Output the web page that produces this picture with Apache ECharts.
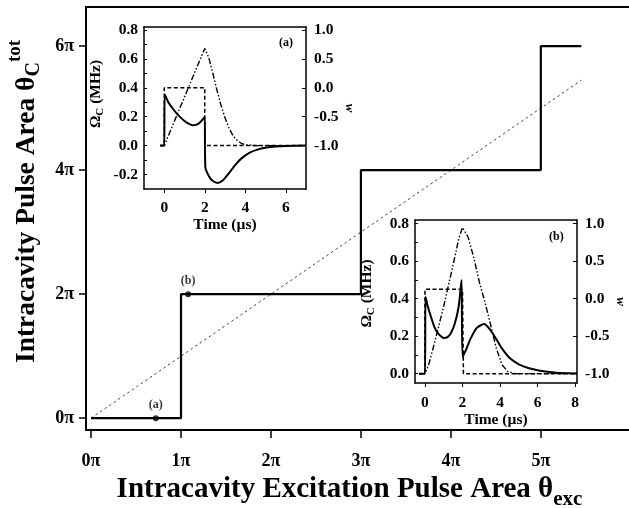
<!DOCTYPE html>
<html><head><meta charset="utf-8">
<script src="https://cdn.jsdelivr.net/npm/echarts@6/dist/echarts.min.js"></script>
<style>html,body{margin:0;padding:0;background:#fff}#c{width:629px;height:508px}</style>
</head><body><div id="c"></div>
<script>
// ---- main plot (units of pi) ----
const stepX = [0, 1, 1, 3, 3, 5, 5, 5.45];
const stepY = [0, 0, 2, 2, 4, 4, 6, 6];
const diagX = [0, 5.45];
const diagY = [0, 5.45];
const markX = [0.72, 1.08];
const markY = [0, 2];
const markLabels = ['(a)', '(b)'];
const mainXTicks = [0, 1, 2, 3, 4, 5];
const mainYTicks = [0, 2, 4, 6];

// ---- inset (a) ----
const aSolidT = [-0.2, 0, 0.02, 0.2, 0.4, 0.6, 0.8, 1.0, 1.2, 1.4, 1.6, 1.8, 1.95, 2.0, 2.03, 2.2, 2.4, 2.65, 2.9, 3.2, 3.5, 3.8, 4.2, 4.6, 5.0, 5.5, 6.0, 7.0];
const aSolidV = [0, 0, 0.355, 0.30, 0.26, 0.225, 0.195, 0.17, 0.152, 0.14, 0.145, 0.165, 0.19, 0.2, -0.15, -0.21, -0.245, -0.258, -0.24, -0.19, -0.135, -0.09, -0.05, -0.028, -0.015, -0.007, -0.003, 0];
const aDashT = [-0.2, 0, 0, 2, 2, 7];
const aDashV = [0, 0, 0.4, 0.4, 0, 0];
const aWT = [-0.2, 0, 0.5, 1.0, 1.5, 2.0, 2.2, 2.4, 2.6, 2.8, 3.0, 3.2, 3.4, 3.6, 3.8, 4.0, 4.5, 7.0];
const aWV = [-1, -1, -0.58, -0.16, 0.26, 0.68, 0.52, 0.25, -0.04, -0.3, -0.52, -0.7, -0.83, -0.91, -0.96, -0.985, -1, -1];
const aXTicks = [0, 2, 4, 6];
const aOmegaTicks = [-0.2, 0, 0.2, 0.4, 0.6, 0.8];
const aOmegaMinor = [-0.2, -0.1, 0, 0.1, 0.2, 0.3, 0.4, 0.5, 0.6, 0.7, 0.8];
const aWTicks = [-1, -0.5, 0, 0.5, 1];

// ---- inset (b) ----
const bSolidT = [-0.3, 0, 0.03, 0.15, 0.3, 0.5, 0.7, 0.9, 1.0, 1.2, 1.4, 1.6, 1.8, 1.95, 2.0, 2.2, 2.4, 2.76, 3.15, 3.47, 3.82, 4.1, 4.5, 5.0, 5.5, 6.0, 6.5, 7.0, 8.1];
const bSolidV = [0, 0, 0.41, 0.36, 0.31, 0.25, 0.215, 0.195, 0.19, 0.195, 0.22, 0.27, 0.36, 0.5, 0.09, 0.13, 0.18, 0.244, 0.265, 0.235, 0.181, 0.135, 0.085, 0.05, 0.03, 0.018, 0.01, 0.005, 0.001];
const bDashT = [-0.3, 0, 0, 2, 2.05, 8.1];
const bDashV = [0, 0, 0.45, 0.45, 0, 0];
const bWT = [-0.3, 0, 0.2, 0.5, 1.0, 1.5, 1.8, 2.0, 2.3, 2.6, 2.9, 3.2, 3.5, 3.8, 4.1, 4.4, 4.8, 8.1];
const bWV = [-1, -1, -0.88, -0.6, -0.1, 0.45, 0.8, 0.95, 0.82, 0.55, 0.22, -0.05, -0.35, -0.66, -0.88, -0.97, -1, -1];
const bXTicks = [0, 2, 4, 6, 8];
const bOmegaTicks = [0, 0.2, 0.4, 0.6, 0.8];
const bOmegaMinor = [0, 0.1, 0.2, 0.3, 0.4, 0.5, 0.6, 0.7, 0.8];
const bWTicks = [-1, -0.5, 0, 0.5, 1];

const zip = (a, b) => a.map((v, i) => [v, b[i]]);
const FF = 'Liberation Serif';
const blk = '#000';

function frameAxis(grid, pos, min, max, w) {
  return { type: 'value', gridIndex: grid, position: pos, min, max,
    axisLine: { show: true, onZero: false, lineStyle: { color: blk, width: w } },
    axisTick: { show: false }, axisLabel: { show: false }, splitLine: { show: false } };
}
const f1 = v => v.toFixed(1);

const insetLbl = { color: blk, fontFamily: FF, fontWeight: 'bold', fontSize: 15.5 };
const omegaName = '{a|Ω}{s|C}{a| (MHz)}';
const omegaRich = { a: { fontFamily: FF, fontWeight: 'bold', fontSize: 15.5, color: blk },
                    s: { fontFamily: FF, fontWeight: 'bold', fontSize: 11, color: blk, padding: [10, 0, 0, 0] } };

const option = {
  animation: false,
  backgroundColor: '#fff',
  grid: [
    { left: 86, top: 7, right: 0, bottom: 78, outerBoundsMode: 'none', containLabel: false },
    { left: 144, top: 27, width: 162, height: 162, show: true, backgroundColor: '#fff', borderWidth: 0, outerBoundsMode: 'none', containLabel: false },
    { left: 415, top: 220, width: 162, height: 163, show: true, backgroundColor: '#fff', borderWidth: 0, outerBoundsMode: 'none', containLabel: false }
  ],
  xAxis: [
    { type: 'value', gridIndex: 0, min: -0.056, max: 5.98, position: 'bottom',
      axisLine: { onZero: false, lineStyle: { color: blk, width: 2 } },
      axisTick: { show: true, length: 8, lineStyle: { color: blk, width: 1.5 }, customValues: mainXTicks },
      axisLabel: { customValues: mainXTicks, formatter: v => v + 'π', margin: 22, color: blk, fontFamily: FF, fontWeight: 'bold', fontSize: 18 },
      splitLine: { show: false },
      name: '{a|Intracavity Excitation Pulse Area θ}{s|exc}', nameLocation: 'middle', nameGap: 35,
      nameTextStyle: { padding: [0, 16, 0, 0], rich: {
        a: { fontFamily: FF, fontWeight: 'bold', fontSize: 29, color: blk },
        s: { fontFamily: FF, fontWeight: 'bold', fontSize: 21, color: blk, padding: [20, 0, 0, 0] } } } },
    frameAxis(0, 'top', -0.056, 5.98, 2),
    { type: 'value', gridIndex: 1, min: -1, max: 7, position: 'bottom',
      axisLine: { onZero: false, lineStyle: { color: blk, width: 1.5 } },
      axisTick: { show: true, length: 4, lineStyle: { color: blk }, customValues: aXTicks },
      axisLabel: Object.assign({ customValues: aXTicks, margin: 11 }, insetLbl),
      splitLine: { show: false },
      name: 'Time (µs)', nameLocation: 'middle', nameGap: 28,
      nameTextStyle: { fontFamily: FF, fontWeight: 'bold', fontSize: 15.5, color: blk } },
    frameAxis(1, 'top', -1, 7, 1.5),
    { type: 'value', gridIndex: 2, min: -0.53, max: 8.1, position: 'bottom',
      axisLine: { onZero: false, lineStyle: { color: blk, width: 1.5 } },
      axisTick: { show: true, length: 4, lineStyle: { color: blk }, customValues: bXTicks },
      axisLabel: Object.assign({ customValues: bXTicks, margin: 12 }, insetLbl),
      splitLine: { show: false },
      name: 'Time (µs)', nameLocation: 'middle', nameGap: 24,
      nameTextStyle: { fontFamily: FF, fontWeight: 'bold', fontSize: 15.5, color: blk } },
    frameAxis(2, 'top', -0.53, 8.1, 1.5)
  ],
  yAxis: [
    { type: 'value', gridIndex: 0, min: -0.19, max: 6.63, position: 'left',
      axisLine: { show: true, onZero: false, lineStyle: { color: blk, width: 2 } },
      axisTick: { show: true, length: 7, lineStyle: { color: blk, width: 1.5 }, customValues: mainYTicks },
      axisLabel: { customValues: mainYTicks, formatter: v => v + 'π', margin: 12, color: blk, fontFamily: FF, fontWeight: 'bold', fontSize: 18 },
      splitLine: { show: false },
      name: '{a|Intracavity Pulse Area θ}{s|C}{p|tot}', nameLocation: 'middle', nameGap: 33, nameRotate: 90,
      nameTextStyle: { padding: [0, 0, 0, 34], rich: {
        a: { fontFamily: FF, fontWeight: 'bold', fontSize: 27.5, color: blk },
        s: { fontFamily: FF, fontWeight: 'bold', fontSize: 20, color: blk, padding: [14, 0, 0, 0] },
        p: { fontFamily: FF, fontWeight: 'bold', fontSize: 19, color: blk, padding: [0, 0, 24, 0] } } } },
    { type: 'value', gridIndex: 1, min: -0.3, max: 0.82, position: 'left',
      axisLine: { show: true, onZero: false, lineStyle: { color: blk, width: 1.5 } },
      axisTick: { show: true, inside: true, length: 3, lineStyle: { color: blk }, customValues: aOmegaMinor },
      axisLabel: Object.assign({ customValues: aOmegaTicks, formatter: f1, margin: 6 }, insetLbl),
      splitLine: { show: false },
      name: omegaName, nameLocation: 'middle', nameGap: 38, nameRotate: 90,
      nameTextStyle: { padding: [0, 0, 0, 28], rich: omegaRich } },
    { type: 'value', gridIndex: 1, min: -1.75, max: 1.05, position: 'right',
      axisLine: { show: true, onZero: false, lineStyle: { color: blk, width: 1.5 } },
      axisTick: { show: true, inside: true, length: 4, lineStyle: { color: blk }, customValues: aWTicks },
      axisLabel: Object.assign({ customValues: aWTicks, formatter: f1, margin: 8 }, insetLbl),
      splitLine: { show: false },
      name: 'w', nameLocation: 'middle', nameGap: 31, nameRotate: -90,
      nameTextStyle: { fontFamily: FF, fontWeight: 'bold', fontStyle: 'italic', fontSize: 13, color: blk } },
    { type: 'value', gridIndex: 2, min: -0.05, max: 0.82, position: 'left',
      axisLine: { show: true, onZero: false, lineStyle: { color: blk, width: 1.5 } },
      axisTick: { show: true, inside: true, length: 3, lineStyle: { color: blk }, customValues: bOmegaMinor },
      axisLabel: Object.assign({ customValues: bOmegaTicks, formatter: f1, margin: 6 }, insetLbl),
      splitLine: { show: false },
      name: omegaName, nameLocation: 'middle', nameGap: 38, nameRotate: 90,
      nameTextStyle: { padding: [0, 0, 0, 16], rich: omegaRich } },
    { type: 'value', gridIndex: 2, min: -1.125, max: 1.05, position: 'right',
      axisLine: { show: true, onZero: false, lineStyle: { color: blk, width: 1.5 } },
      axisTick: { show: true, inside: true, length: 4, lineStyle: { color: blk }, customValues: bWTicks },
      axisLabel: Object.assign({ customValues: bWTicks, formatter: f1, margin: 8 }, insetLbl),
      splitLine: { show: false },
      name: 'w', nameLocation: 'middle', nameGap: 31, nameRotate: -90,
      nameTextStyle: { fontFamily: FF, fontWeight: 'bold', fontStyle: 'italic', fontSize: 13, color: blk } }
  ],
  series: [
    { type: 'line', xAxisIndex: 0, yAxisIndex: 0, data: zip(diagX, diagY), showSymbol: false,
      lineStyle: { color: '#444', width: 1, type: [2.5, 3] }, z: 1 },
    { type: 'line', xAxisIndex: 0, yAxisIndex: 0, data: zip(stepX, stepY), showSymbol: false,
      lineStyle: { color: blk, width: 2.2 }, z: 2 },
    { type: 'scatter', xAxisIndex: 0, yAxisIndex: 0, data: zip(markX, markY), symbolSize: 6,
      itemStyle: { color: blk }, z: 3,
      label: { show: true, position: 'top', distance: 4, formatter: p => markLabels[p.dataIndex],
        color: blk, fontFamily: FF, fontWeight: 'bold', fontSize: 12 } },

    { type: 'line', xAxisIndex: 2, yAxisIndex: 2, data: zip(aWT, aWV), showSymbol: false,
      lineStyle: { color: blk, width: 1.4, type: [6, 2, 1.5, 2, 1.5, 2] }, z: 5 },
    { type: 'line', xAxisIndex: 2, yAxisIndex: 1, data: zip(aDashT, aDashV), showSymbol: false,
      lineStyle: { color: blk, width: 1.5, type: [4, 2.5] }, z: 5 },
    { type: 'line', xAxisIndex: 2, yAxisIndex: 1, data: zip(aSolidT, aSolidV), showSymbol: false, smooth: 0.2,
      lineStyle: { color: blk, width: 2 }, z: 6 },

    { type: 'line', xAxisIndex: 4, yAxisIndex: 4, data: zip(bWT, bWV), showSymbol: false,
      lineStyle: { color: blk, width: 1.4, type: [6, 2, 1.5, 2, 1.5, 2] }, z: 5 },
    { type: 'line', xAxisIndex: 4, yAxisIndex: 3, data: zip(bDashT, bDashV), showSymbol: false,
      lineStyle: { color: blk, width: 1.5, type: [4, 2.5] }, z: 5 },
    { type: 'line', xAxisIndex: 4, yAxisIndex: 3, data: zip(bSolidT, bSolidV), showSymbol: false, smooth: 0.2,
      lineStyle: { color: blk, width: 2 }, z: 6 }
  ],
  graphic: [
    { type: 'text', left: 279, top: 37, z: 10, style: { text: '(a)', fill: blk, font: 'bold 12px "Liberation Serif"' } },
    { type: 'text', left: 549, top: 231, z: 10, style: { text: '(b)', fill: blk, font: 'bold 12px "Liberation Serif"' } }
  ]
};
const chart = echarts.init(document.getElementById('c'), null, { renderer: 'canvas' });
chart.setOption(option);
</script></body></html>
